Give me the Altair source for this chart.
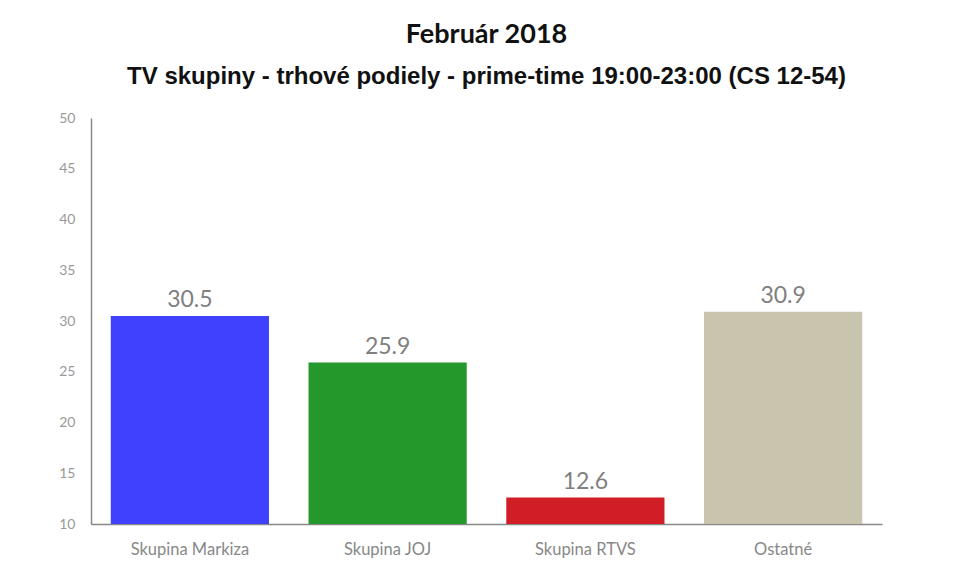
import altair as alt
import pandas as pd

categories = ["Skupina Markiza", "Skupina JOJ", "Skupina RTVS", "Ostatné"]
values = [30.5, 25.9, 12.6, 30.9]
colors = ["#4040FF", "#25982B", "#D11D26", "#C8C4AD"]
y_ticks = [10, 15, 20, 25, 30, 35, 40, 45, 50]

df = pd.DataFrame({"cat": categories, "val": values, "color": colors})

FONT = "Lato"

x = alt.X("cat:N", sort=categories, title=None,
          scale=alt.Scale(paddingInner=0.2, paddingOuter=0.1),
          axis=alt.Axis(labelAngle=0, labelFontSize=16.5, labelColor="#888888",
                        labelFont=FONT, labelPadding=17, ticks=False,
                        domainColor="#888888", domainWidth=1.5))
y = alt.Y("val:Q", title=None,
          scale=alt.Scale(domain=[10, 50], nice=False, clamp=True),
          axis=alt.Axis(values=y_ticks, grid=False, ticks=False, labelFontSize=14,
                        labelColor="#999999", labelFont=FONT, labelPadding=16,
                        domainColor="#888888", domainWidth=1.5))

bars = alt.Chart(df).mark_bar().encode(
    x=x, y=y, y2=alt.datum(10),
    color=alt.Color("color:N", scale=None),
)
labels = alt.Chart(df).mark_text(
    baseline="bottom", dy=-4, fontSize=23, color="#808080", font=FONT
).encode(x=alt.X("cat:N", sort=categories), y="val:Q", text=alt.Text("val:Q", format=".1f"))

chart = (bars + labels).properties(
    width=791, height=406,
    background="white",
    title=alt.TitleParams(
        text="Február 2018",
        subtitle="TV skupiny - trhové podiely - prime-time 19:00-23:00 (CS 12-54)",
        font=FONT, fontSize=27, fontWeight="bold", color="#111111",
        subtitleFont="Liberation Sans", subtitleFontSize=24, subtitleFontWeight="bold",
        subtitleColor="#111111", subtitlePadding=16, offset=21, anchor="middle",
    ),
    padding={"left": 83, "top": 110, "right": 60, "bottom": 40},
    autosize=alt.AutoSizeParams(type="none"),
).configure_view(strokeWidth=0)

chart.save("out.html", embed_options={"renderer": "svg", "actions": False})
